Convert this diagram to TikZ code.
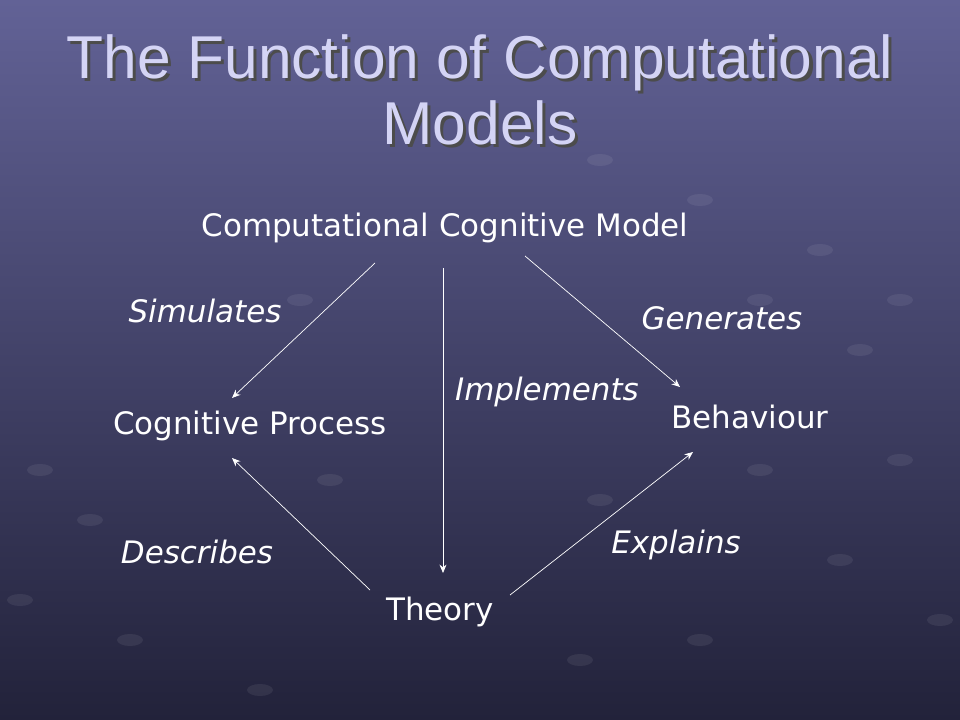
\documentclass[tikz,border=0pt]{standalone}
\usepackage{fontspec}
\setmainfont{DejaVu Sans}
\newfontfamily\titlefont{Liberation Sans}
\usetikzlibrary{positioning, arrows.meta}
\definecolor{slidetop}{RGB}{98,98,150}
\definecolor{slidebot}{RGB}{34,34,58}
\definecolor{titlecol}{RGB}{212,212,245}
\tikzset{
  lbl/.style={text=white, font=\fontsize{22}{26}\selectfont, inner sep=0pt},
  verb/.style={lbl, font=\fontsize{22}{26}\selectfont\itshape},
  link/.style={draw=white, line width=0.5pt, -{Stealth[length=6pt, width=5pt]}}
}
\begin{document}
\begin{tikzpicture}[x=0.025cm, y=-0.025cm, >=Stealth]

        % fond
        \shade[top color=slidetop, bottom color=slidebot] (0,0) rectangle (960,720);
        \useasboundingbox (0,0) rectangle (960,720);
        \foreach \px/\py in {600/160,700/200,820/250,900/300,760/300,860/350,40/470,90/520,20/600,130/640,260/690,580/660,700/640,840/560,900/460,940/620,330/480,600/500,760/470,300/300}
            \fill[white, opacity=0.07] (\px,\py) ellipse (13 and 6);

        % titre
        \node[text=black!70, font=\titlefont\fontsize{43}{47}\selectfont, align=center] at (483,93) {The Function of Computational\\Models};
        \node[text=titlecol, font=\titlefont\fontsize{43}{47}\selectfont, align=center] (title) at (480,90) {The Function of Computational\\Models};

        % noeuds
        \node[lbl] (model) at (445,228) {Computational Cognitive Model};
        \node[lbl] (process) at (250,426) {Cognitive Process};
        \node[lbl] (behav) at (750,417) {Behaviour};
        \node[lbl] (theory) at (440,612) {Theory};

        % extremites des fleches
        \coordinate (m1) at (375,263);
        \coordinate (m2) at (443,268);
        \coordinate (m3) at (525,256);
        \coordinate (p1) at (232,398);
        \coordinate (p2) at (232,458);
        \coordinate (b1) at (680,387);
        \coordinate (b2) at (693,452);
        \coordinate (t1) at (443,573);
        \coordinate (t2) at (370,590);
        \coordinate (t3) at (510,595);

        % fleches
        \draw[link] (m1) -- (p1);
        \draw[link] (m2) -- (t1);
        \draw[link] (m3) -- (b1);
        \draw[link] (t2) -- (p2);
        \draw[link] (t3) -- (b2);

        % etiquettes
        \node[verb] (sim) at (205,311) {Simulates};
        \node[verb] (gen) at (722,318) {Generates};
        \node[verb] (impl) at (547,392) {Implements};
        \node[verb] (desc) at (197,552) {Describes};
        \node[verb] (expl) at (676,545) {Explains};

\end{tikzpicture}
\end{document}
